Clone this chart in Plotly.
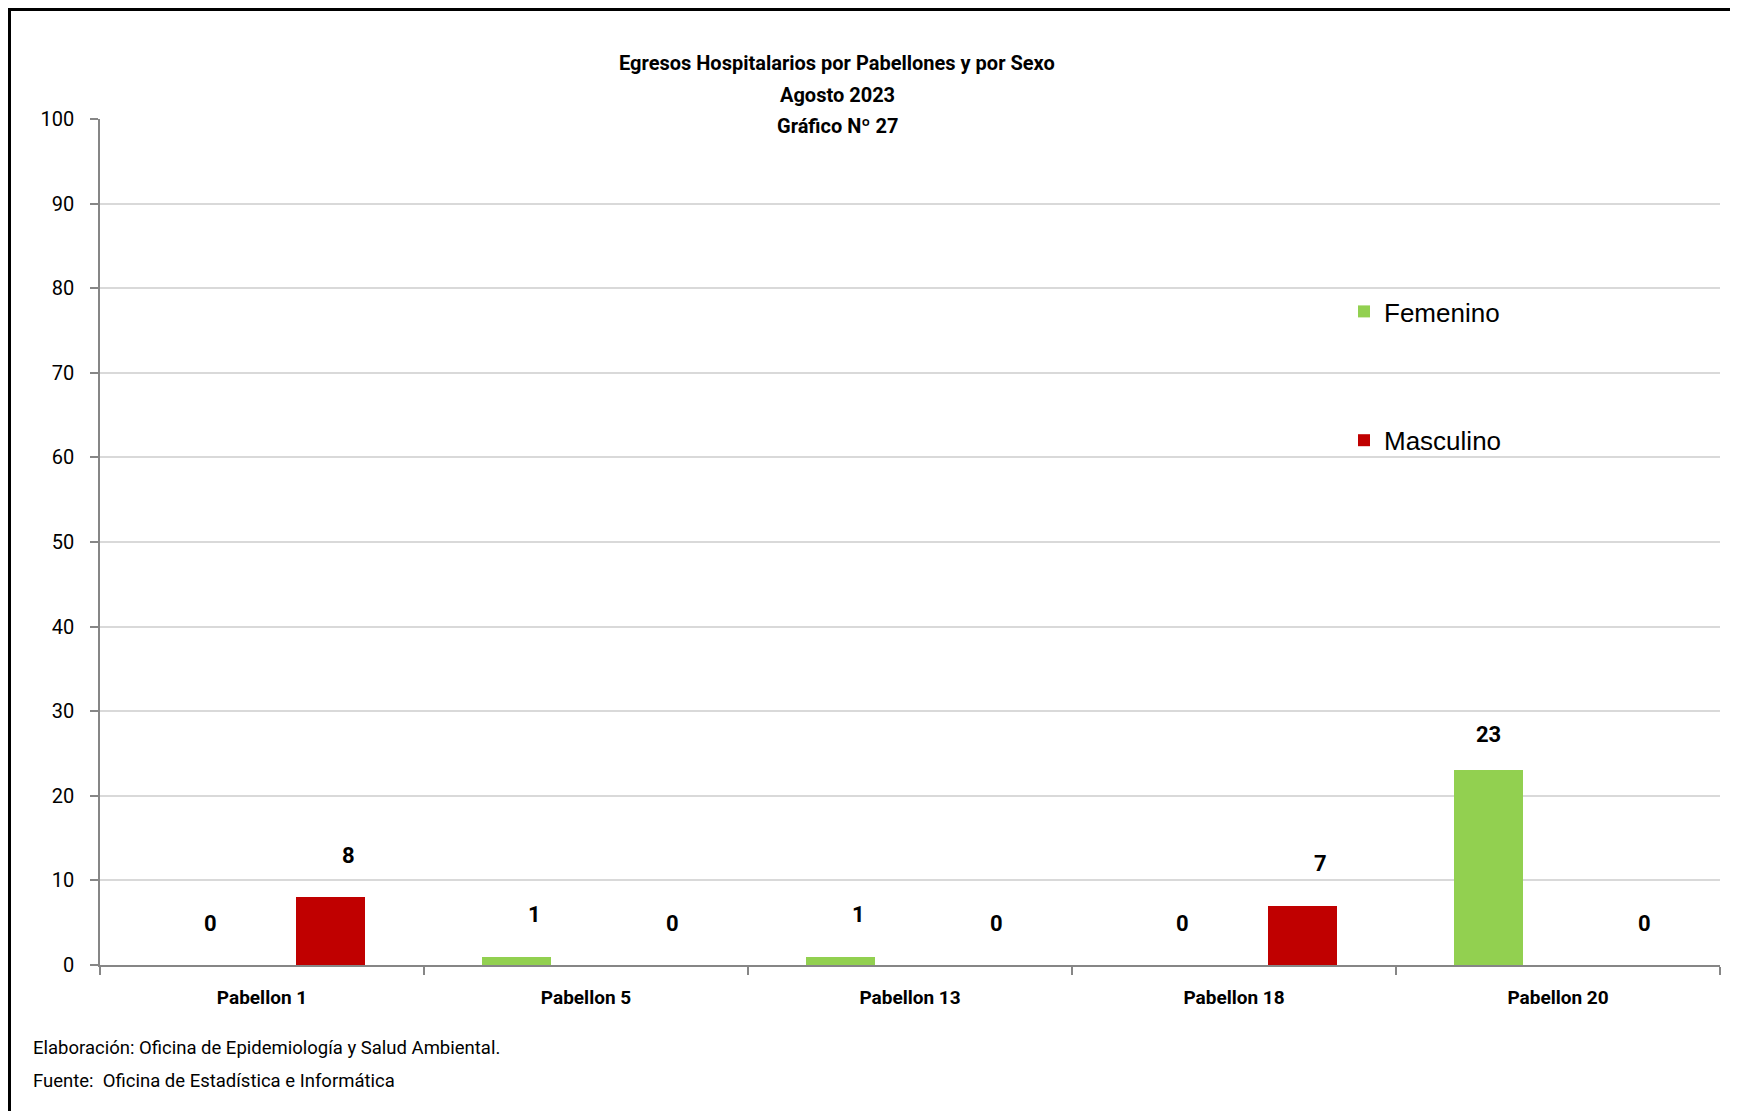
import plotly.graph_objects as go

categories = ["Pabellon 1", "Pabellon 5", "Pabellon 13", "Pabellon 18", "Pabellon 20"]
femenino = [0, 1, 1, 0, 23]
masculino = [8, 0, 0, 7, 0]
y_ticks = [0, 10, 20, 30, 40, 50, 60, 70, 80, 90, 100]

title_lines = ["Egresos Hospitalarios por Pabellones y por Sexo", "Agosto 2023", "Gráfico Nº 27"]
footer_lines = ["Elaboración: Oficina de Epidemiología y Salud Ambiental.",
                "Fuente:  Oficina de Estadística e Informática"]

# page offset of the plotly div (body margin)
OFF = 8
W, H = 1730, 1103
L, R, T, B = 92, 18, 111, 146
PW, PH = W - L - R, H - T - B

def px(x):  # page x -> paper
    return (x - OFF - L) / PW

def py(y):  # page y -> paper
    return (H - B - (y - OFF)) / PH

NARROW = "Roboto, Liberation Sans Narrow, sans-serif"
GREEN = "#92D050"
RED = "#C00000"
BW = 0.213
OFF_F = -0.32
OFF_M = 0.105

idx = list(range(len(categories)))

fig = go.Figure()
fig.add_trace(go.Bar(name="Femenino", x=idx, y=femenino, width=BW, offset=OFF_F,
                     marker=dict(color=GREEN, line=dict(width=0)), legendgroup="f"))
fig.add_trace(go.Bar(name="Masculino", x=idx, y=masculino, width=BW, offset=OFF_M,
                     marker=dict(color=RED, line=dict(width=0)), legendgroup="m"))

annotations = []
for series, off in ((femenino, OFF_F), (masculino, OFF_M)):
    for i, v in enumerate(series):
        annotations.append(dict(
            x=i + off + BW / 2, y=v, xref="x", yref="y", text=str(v), showarrow=False,
            xshift=0 if v > 20 else 18, yshift=36 if v > 20 else 42, yanchor="middle",
            font=dict(family=NARROW, size=22, color="black", weight="bold")))

for k, line in enumerate(title_lines):
    annotations.append(dict(x=px(837), y=py([63, 95, 126][k]), xref="paper", yref="paper",
                            text=line, showarrow=False, xanchor="center", yanchor="middle",
                            font=dict(family=NARROW, size=20, color="black", weight="bold")))
for k, line in enumerate(footer_lines):
    annotations.append(dict(x=px(31), y=py([1048, 1081][k]), xref="paper", yref="paper",
                            text=line, showarrow=False, xanchor="left", yanchor="middle",
                            font=dict(family=NARROW, size=18.5, color="black")))

shapes = [
    dict(type="line", xref="paper", yref="paper", x0=px(8), x1=px(OFF + W + 5), y0=py(9.5), y1=py(9.5),
         line=dict(color="black", width=3)),
    dict(type="line", xref="paper", yref="paper", x0=px(9.5), x1=px(9.5), y0=py(8), y1=py(OFF + H + 5),
         line=dict(color="black", width=3)),
]

fig.update_layout(
    width=W, height=H,
    margin=dict(l=L, r=R, t=T, b=B),
    paper_bgcolor="white", plot_bgcolor="white",
    showlegend=True,
    legend=dict(x=px(1344), y=py(288), xanchor="left", yanchor="top",
                font=dict(family="Liberation Sans, Arial, sans-serif", size=26, color="black"),
                tracegroupgap=92, bgcolor="rgba(0,0,0,0)", itemwidth=30),
    annotations=annotations,
    shapes=shapes,
    bargap=0, barmode="group",
)
fig.update_xaxes(
    type="linear", range=[-0.5, len(categories) - 0.5],
    tickmode="array", tickvals=idx, ticktext=categories,
    showgrid=False, showline=True, linecolor="#868686", linewidth=1.5,
    ticks="", zeroline=False,
    tickfont=dict(family=NARROW, size=19, color="black", weight="bold"),
    ticklabelstandoff=14,
)
fig.update_xaxes(minor=dict(tickmode="array", tickvals=[i - 0.5 for i in range(len(categories) + 1)],
                            ticks="outside", ticklen=8, tickcolor="#868686", tickwidth=1.5, showgrid=False))
fig.update_yaxes(
    range=[0, 100], tickmode="array", tickvals=y_ticks,
    showgrid=True, gridcolor="#D9D9D9", gridwidth=1.5,
    showline=True, linecolor="#868686", linewidth=1.5,
    ticks="outside", ticklen=8, tickcolor="#868686", tickwidth=1.5,
    zeroline=False,
    tickfont=dict(family=NARROW, size=20, color="black"),
    ticklabelstandoff=12,
)

fig.write_html("out.html")
